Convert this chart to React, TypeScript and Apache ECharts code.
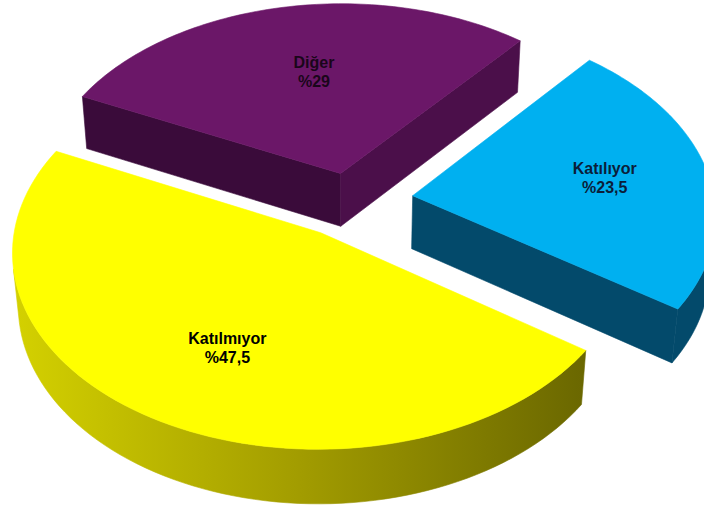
import React, { useEffect, useRef } from "react";
import * as echarts from "echarts";

// ---- data ----
const categories = ["Katılıyor", "Katılmıyor", "Diğer"];
const values = [23.5, 47.5, 29];

// ---- styling ----
const topColors = ["#00b0f0", "#ffff00", "#6b1768"];
const startFaceColors = ["#034a6b", "#6a6700", "#3a0b3a"];
const endFaceColors = ["#034a6b", "#a29c00", "#4b0f4a"];
const wallStops = [
  ["#034a6b", "#034a6b", "#034a6b"],
  ["#d4d100", "#a29c00", "#6a6700"],
  ["#4b0f4a", "#4b0f4a", "#4b0f4a"],
];
const labelColors = ["#0b1e3a", "#000000", "#1a061a"];
const explode = [0.21, 0.19, 0.15];
const labelNudge = [
  [3, -2],
  [12, 1],
  [11, 8],
];

const START_DEG = -50;
const SINP = 0.63;
const COSP = Math.sqrt(1 - SINP * SINP);
const DIST = 8.4;
const SCALE = 302;
const CX = 350;
const CY = 201;
const THICK = 0.23;
const LABEL_R = 0.64;

function proj(X: number, Y: number, Z: number): number[] {
  const depth = DIST - (Y * SINP + Z * COSP);
  const f = DIST / depth;
  return [CX + SCALE * X * f, CY + SCALE * (Z * SINP - Y * COSP) * f];
}

const cam = [0, DIST * SINP, DIST * COSP];
function visible(nx: number, nz: number, px: number, pz: number) {
  return (cam[0] - px) * nx + (cam[2] - pz) * nz > 0;
}

function renderItem(params: any, api: any) {
  const i = params.dataIndex;
  const total = values.reduce((a, b) => a + b, 0);
  let a0 = (START_DEG * Math.PI) / 180;
  for (let j = 0; j < i; j++) a0 += (values[j] / total) * Math.PI * 2;
  const a1 = a0 + (values[i] / total) * Math.PI * 2;
  const mid = (a0 + a1) / 2;
  const ox = explode[i] * Math.cos(mid);
  const oz = explode[i] * Math.sin(mid);
  const zb = Math.round((Math.sin(mid) + 1) * 10) * 10;
  const N = 90;
  const topPts: number[][] = [];
  const botPts: number[][] = [];
  const angs: number[] = [];
  for (let k = 0; k <= N; k++) {
    const t = a0 + ((a1 - a0) * k) / N;
    angs.push(t);
    topPts.push(proj(ox + Math.cos(t), 0, oz + Math.sin(t)));
    botPts.push(proj(ox + Math.cos(t), -THICK, oz + Math.sin(t)));
  }
  const apexT = proj(ox, 0, oz);
  const apexB = proj(ox, -THICK, oz);
  const children: any[] = [];
  if (visible(Math.sin(a0), -Math.cos(a0), ox, oz)) {
    const c = startFaceColors[i];
    children.push({
      type: "polygon",
      z2: zb + 1,
      shape: { points: [apexT, topPts[0], botPts[0], apexB] },
      style: { fill: c, stroke: c, lineWidth: 0.6 },
    });
  }
  if (visible(-Math.sin(a1), Math.cos(a1), ox, oz)) {
    const c = endFaceColors[i];
    children.push({
      type: "polygon",
      z2: zb + 1,
      shape: { points: [apexT, topPts[N], botPts[N], apexB] },
      style: { fill: c, stroke: c, lineWidth: 0.6 },
    });
  }
  let run: number[] = [];
  const runs: number[][] = [];
  for (let k = 0; k < N; k++) {
    const tm = (angs[k] + angs[k + 1]) / 2;
    const v = visible(Math.cos(tm), Math.sin(tm), ox + Math.cos(tm), oz + Math.sin(tm));
    if (v) {
      if (run.length === 0) run.push(k);
      run.push(k + 1);
    } else if (run.length) {
      runs.push(run);
      run = [];
    }
  }
  if (run.length) runs.push(run);
  runs.forEach((r) => {
    const pts: number[][] = [];
    r.forEach((k) => pts.push(topPts[k]));
    for (let m = r.length - 1; m >= 0; m--) pts.push(botPts[r[m]]);
    let xmin = Infinity, xmax = -Infinity;
    pts.forEach((p) => { xmin = Math.min(xmin, p[0]); xmax = Math.max(xmax, p[0]); });
    const s = wallStops[i];
    const grad = new echarts.graphic.LinearGradient(xmin, 0, xmax, 0, [
      { offset: 0, color: s[0] },
      { offset: 0.5, color: s[1] },
      { offset: 1, color: s[2] },
    ], true);
    children.push({
      type: "polygon",
      z2: zb + 1,
      shape: { points: pts },
      style: { fill: grad, stroke: grad, lineWidth: 0.6 },
    });
  });
  children.push({
    type: "polygon",
    z2: zb + 3,
    shape: { points: [apexT, ...topPts] },
    style: { fill: topColors[i], stroke: topColors[i], lineWidth: 0.6 },
  });
  const lp = proj(ox + LABEL_R * Math.cos(mid), 0, oz + LABEL_R * Math.sin(mid));
  children.push({
    type: "text",
    z2: zb + 5,
    style: {
      text: categories[i] + "\n%" + String(values[i]).replace(".", ","),
      x: lp[0] + labelNudge[i][0],
      y: lp[1] + labelNudge[i][1],
      align: "center",
      verticalAlign: "middle",
      fontFamily: '"Liberation Sans", Arial, sans-serif',
      fontWeight: "bold",
      fontSize: 16,
      lineHeight: 19,
      fill: labelColors[i],
    },
  });
  return { type: "group", children };
}

export default function App() {
  const ref = useRef<HTMLDivElement>(null);
  useEffect(() => {
    if (!ref.current) return;
    const chart = echarts.init(ref.current, undefined, { renderer: "svg" });
    chart.setOption({
      animation: false,
      backgroundColor: "#ffffff",
      series: [
        {
          type: "custom",
          coordinateSystem: "none",
          silent: true,
          renderItem,
          data: values.map((v, i) => [i, v]),
        },
      ],
    });
    return () => chart.dispose();
  }, []);
  return (
    <div
      ref={ref}
      style={{ position: "fixed", left: 0, top: 0, width: 704, height: 510 }}
    />
  );
}
